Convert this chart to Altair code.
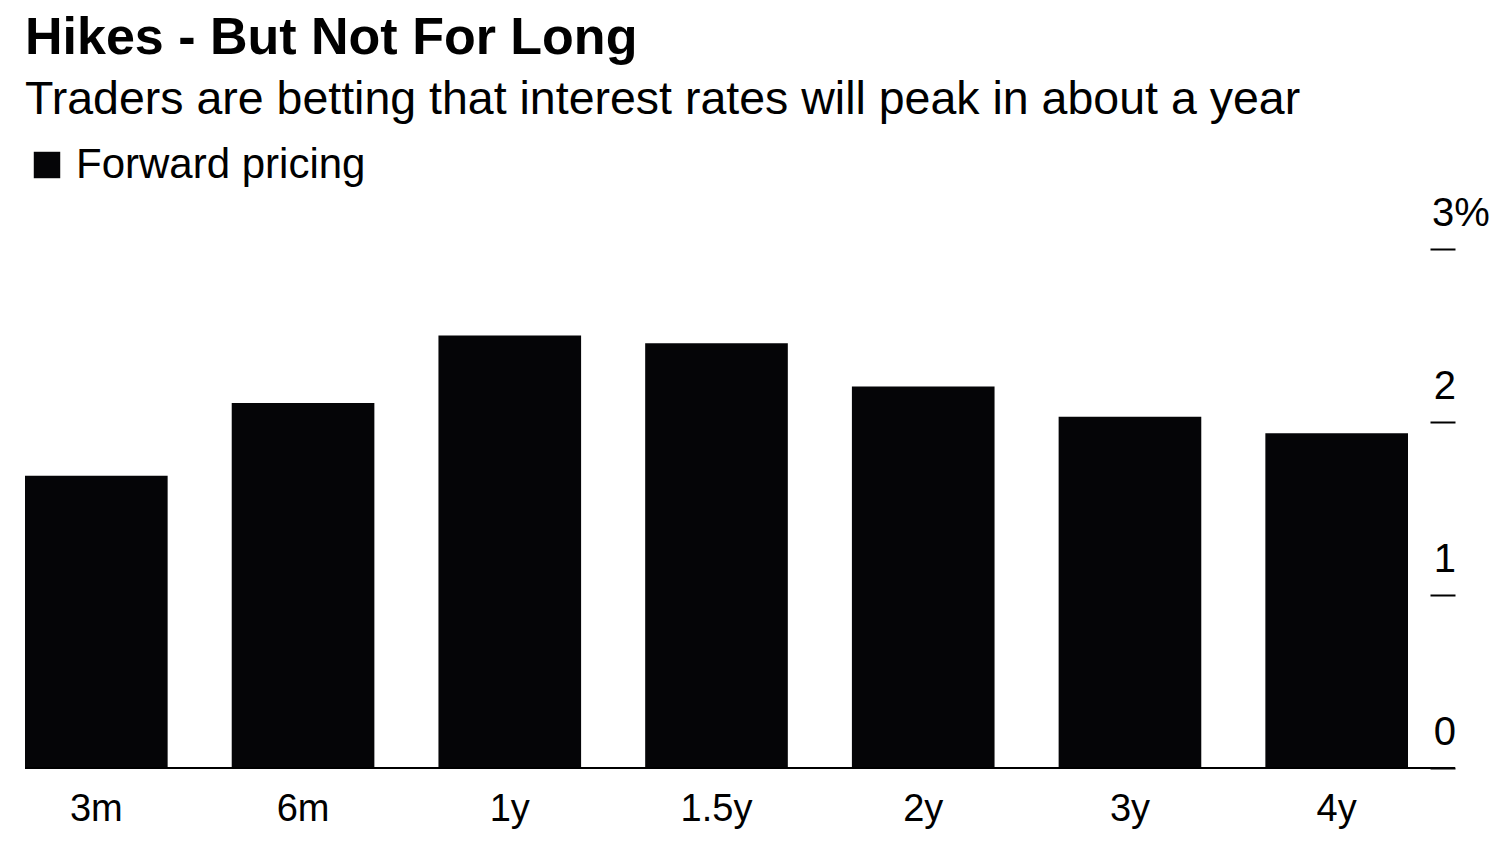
import altair as alt
import pandas as pd

tenors = ["3m", "6m", "1y", "1.5y", "2y", "3y", "4y"]
rates = [1.69, 2.11, 2.50, 2.455, 2.205, 2.03, 1.935]
series_name = "Forward pricing"
y_ticks = [0, 1, 2, 3]
y_tick_labels = ["0", "1", "2", "3%"]

df = pd.DataFrame({"tenor": tenors, "rate": rates, "series": series_name})
ticks_df = pd.DataFrame({"v": y_ticks, "label": y_tick_labels})
base_df = pd.DataFrame({"v": [0]})

FONT = "Liberation Sans"
W, H = 1383, 519

yscale = alt.Scale(domain=[0, 3], nice=False)

bars = alt.Chart(df).mark_bar(color="#050507").encode(
    x=alt.X(
        "tenor:N", sort=tenors,
        scale=alt.Scale(paddingInner=0.31, paddingOuter=0),
        axis=alt.Axis(title=None, ticks=False, domain=False, labelAngle=0,
                      labelFontSize=38, labelColor="black", labelFont=FONT,
                      labelPadding=22),
    ),
    y=alt.Y(
        "rate:Q", scale=yscale,
        axis=alt.Axis(orient="right", title=None, values=y_ticks, labels=False,
                      domain=False, grid=False, tickSize=25, offset=22,
                      tickColor="black", tickWidth=2),
    ),
    color=alt.Color(
        "series:N", scale=alt.Scale(range=["#050507"]),
        legend=alt.Legend(title=None, orient="none", legendX=1, legendY=-105,
                          symbolType="square", symbolSize=700,
                          labelFontSize=42, labelFont=FONT, labelColor="black",
                          labelLimit=600,
                          symbolStrokeWidth=0, symbolOpacity=1, labelOffset=8),
    ),
)

baseline = alt.Chart(base_df).mark_rule(color="black", strokeWidth=2).encode(
    y=alt.Y("v:Q", scale=yscale),
    x=alt.value(0),
    x2=alt.value(1430),
)

labels_right = alt.Chart(ticks_df).transform_filter("datum.v < 3").mark_text(
    align="right", baseline="middle", dy=-35, fontSize=40, font=FONT, color="black"
).encode(y=alt.Y("v:Q", scale=yscale), x=alt.value(1431), text="label:N")

labels_top = alt.Chart(ticks_df).transform_filter("datum.v == 3").mark_text(
    align="left", baseline="middle", dy=-35, fontSize=40, font=FONT, color="black"
).encode(y=alt.Y("v:Q", scale=yscale), x=alt.value(1407), text="label:N")

chart = alt.layer(bars, baseline, labels_right, labels_top).properties(
    width=W, height=H,
    background="white",
    autosize=alt.AutoSizeParams(type="none"),
    padding={"left": 17, "top": 241, "right": 84, "bottom": 75},
    title=alt.TitleParams(
        text="Hikes - But Not For Long",
        subtitle="Traders are betting that interest rates will peak in about a year",
        anchor="start", frame="group", fontSize=52, fontWeight="bold",
        font=FONT, color="black", subtitleFontSize=46.5, subtitleFont=FONT,
        subtitleColor="black", offset=20, subtitlePadding=12, limit=1450,
    ),
).configure_view(stroke="transparent")

chart.save("out.html", embed_options={"renderer": "svg", "actions": False})
